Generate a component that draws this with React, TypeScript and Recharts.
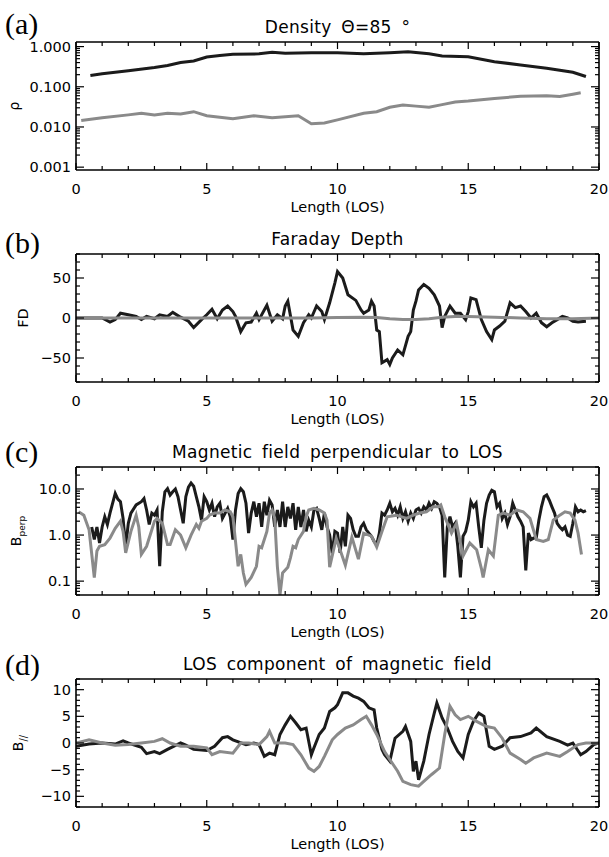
import React from "react";
import { LineChart, Line, XAxis, YAxis } from "recharts";

// ---- shared x axis ----
const losTicks = [0, 1, 2, 3, 4, 5, 6, 7, 8, 9, 10, 11, 12, 13, 14, 15, 16, 17, 18, 19, 20];
const losMajor = [0, 5, 10, 15, 20];

// ---- (a) density ----
const densityBlackX = [0.55, 1, 2, 3, 3.5, 4, 4.5, 5, 5.5, 6, 7, 7.5, 8, 9, 10, 11, 12, 12.7, 13.5, 14, 15, 16, 17, 18, 19, 19.5];
const densityBlack = [0.19, 0.21, 0.25, 0.3, 0.34, 0.4, 0.44, 0.55, 0.6, 0.64, 0.66, 0.72, 0.68, 0.7, 0.7, 0.66, 0.7, 0.74, 0.66, 0.58, 0.56, 0.42, 0.35, 0.29, 0.23, 0.18];
const densityGrayX = [0.2, 1, 2, 2.5, 3, 3.5, 4, 4.5, 5, 6, 6.8, 7.5, 8.5, 9, 9.5, 10, 11, 11.5, 12, 12.5, 13, 13.5, 14, 14.5, 15, 16, 17, 18, 18.5, 19, 19.3];
const densityGray = [0.0145, 0.017, 0.02, 0.022, 0.02, 0.022, 0.021, 0.024, 0.019, 0.016, 0.019, 0.017, 0.019, 0.012, 0.0125, 0.015, 0.022, 0.024, 0.031, 0.035, 0.033, 0.031, 0.036, 0.042, 0.044, 0.051, 0.058, 0.06, 0.057, 0.065, 0.071];
const densityTicks = [0.001, 0.002, 0.003, 0.004, 0.005, 0.006, 0.007, 0.008, 0.009, 0.01, 0.02, 0.03, 0.04, 0.05, 0.06, 0.07, 0.08, 0.09, 0.1, 0.2, 0.3, 0.4, 0.5, 0.6, 0.7, 0.8, 0.9, 1];
const densityMajor = [0.001, 0.01, 0.1, 1];
const densityLabels = ["0.001", "0.010", "0.100", "1.000"];

// ---- (b) Faraday depth ----
const fdBlackX = [0, 0.5, 1, 1.3, 1.5, 1.7, 2, 2.3, 2.5, 2.7, 3, 3.2, 3.5, 3.7, 4, 4.3, 4.5, 4.8, 5, 5.2, 5.4, 5.6, 5.8, 6, 6.1, 6.3, 6.5, 6.7, 6.9, 7, 7.2, 7.3, 7.5, 7.7, 7.9, 8, 8.1, 8.3, 8.5, 8.7, 8.9, 9, 9.2, 9.4, 9.5, 9.7, 9.9, 10, 10.2, 10.4, 10.7, 10.9, 11, 11.2, 11.3, 11.4, 11.5, 11.6, 11.7, 11.9, 12, 12.1, 12.3, 12.5, 12.7, 12.8, 12.9, 13, 13.1, 13.3, 13.5, 13.7, 13.9, 14, 14.1, 14.3, 14.5, 14.7, 14.9, 15, 15.1, 15.3, 15.5, 15.7, 15.9, 16, 16.2, 16.4, 16.6, 16.8, 17, 17.2, 17.4, 17.6, 17.8, 18, 18.2, 18.4, 18.6, 18.8, 19, 19.2, 19.5];
const fdBlack = [0, 0, 0, -5, -2, 6, 4, 2, -2, 2, -1, 4, 2, 7, 1, -4, -12, -2, 4, 11, -1, 10, 15, 8, 2, -17, -6, -5, 6, -2, 10, 16, -4, 4, -1, 15, 21, -15, -23, -6, 4, 0, 15, 8, -2, 19, 44, 58, 50, 29, 22, 10, 6, 10, 21, 15, -15, -17, -56, -52, -58, -50, -40, -46, -23, -17, 10, 21, 35, 42, 37, 29, 15, -12, 2, 15, 6, 6, -2, 8, 25, 23, -2, -17, -27, -15, -10, -4, 19, 13, 15, 8, 0, 6, -6, -11, -6, -2, 2, 0, -4, -5, -4];
const fdGrayX = [0, 2, 4, 6, 8, 9, 10, 11, 11.5, 12, 12.5, 13, 13.5, 14, 14.5, 15, 16, 17, 18, 19, 20];
const fdGray = [0, 0, 0, 0, 0, 0, 0.5, 1, 0.5, -1, -2, -2, -1, 1, 2, 2, 1, 0, -1, -1, 0];
const fdTicks = [-80, -70, -60, -50, -40, -30, -20, -10, 0, 10, 20, 30, 40, 50, 60, 70, 80];
const fdMajor = [-50, 0, 50];
const fdLabels = ["\u221250", "0", "50"];

// ---- (c) perpendicular field ----
const bperpBlackX = [0.6, 0.7, 0.8, 0.9, 1.0, 1.1, 1.2, 1.3, 1.5, 1.6, 1.7, 1.8, 1.9, 2.0, 2.1, 2.3, 2.5, 2.6, 2.7, 2.8, 2.9, 3.0, 3.1, 3.2, 3.3, 3.4, 3.5, 3.6, 3.7, 3.8, 3.9, 4.0, 4.1, 4.2, 4.3, 4.4, 4.5, 4.6, 4.7, 4.8, 4.9, 5.0, 5.1, 5.2, 5.3, 5.4, 5.5, 5.6, 5.8, 5.9,
  6.0, 6.1, 6.2, 6.3, 6.4, 6.5, 6.6, 6.7, 6.8, 6.9, 7.0, 7.1, 7.2, 7.3, 7.4, 7.5, 7.6, 7.7, 7.8, 7.9, 8.0, 8.1, 8.2, 8.3, 8.4, 8.5, 8.6, 8.7, 8.8, 8.9, 9.0, 9.1, 9.2, 9.3, 9.4, 9.5, 9.6, 9.7, 9.8, 9.9,
  10.0, 10.1, 10.2, 10.3, 10.4, 10.5, 10.6, 10.7, 10.8, 10.9, 11.0, 11.1, 11.2, 11.3, 11.4, 11.5, 11.6, 11.7, 11.8, 11.9, 12.0, 12.1, 12.2, 12.3, 12.4, 12.5, 12.6, 12.7, 12.8, 12.9, 13.0, 13.1, 13.2, 13.3, 13.4, 13.5, 13.6, 13.7, 13.8, 13.9,
  14.0, 14.1, 14.2, 14.3, 14.4, 14.5, 14.6, 14.7, 14.8, 14.9, 15.0, 15.1, 15.2, 15.3, 15.4, 15.5, 15.6, 15.7, 15.8, 15.9, 16.0, 16.1, 16.2, 16.3, 16.4, 16.5, 16.6, 16.7, 16.8, 16.9, 17.0, 17.1, 17.2, 17.3, 17.4, 17.5, 17.6, 17.7, 17.8, 17.9,
  18.0, 18.1, 18.2, 18.3, 18.4, 18.5, 18.6, 18.7, 18.8, 18.9, 19.0, 19.1, 19.2, 19.3, 19.4, 19.5];
const bperpBlack = [1.5, 0.8, 1.5, 0.67, 1.5, 2.5, 1.7, 3, 8, 6, 5.3, 2.3, 0.55, 1.8, 3, 4.5, 5.3, 6.2, 3.5, 1.7, 3, 2.7, 3.5, 0.21, 3.2, 8.7, 10.2, 7.4, 8.7, 10, 6.8, 3.5, 1.8, 6.8, 11, 13.5, 11.5, 6.8, 4.1, 2.1, 6.8, 5.3, 3.5, 4.9, 2.5, 4.1, 4.9, 2.3, 3.8, 2.5,
  0.8, 3.5, 8, 10.2, 8.7, 4.9, 1.1, 3, 5.3, 2.5, 4.9, 1.5, 5.3, 2.7, 5.7, 4.5, 1.5, 3.5, 1.5, 5.3, 1.5, 4.1, 2.3, 4.9, 1.3, 4.1, 1.5, 3.5, 1.2, 2.1, 1.5, 3.5, 3.8, 2.3, 1.3, 3, 1.5, 1, 0.4, 1.2,
  1.1, 0.41, 1.5, 0.57, 2.7, 2.3, 1.3, 0.94, 0.94, 1.5, 1.8, 1.3, 1.1, 0.94, 0.73, 0.62, 1.1, 3, 2.7, 3.5, 4.9, 3.2, 3.8, 2.7, 4.1, 2.3, 3.2, 2, 3, 2.3, 3.5, 3.8, 3, 4.1, 3.5, 4.9, 3.8, 5.3, 4.9, 4.1,
  2.7, 0.12, 1.5, 2.5, 1.5, 1.8, 0.57, 0.12, 0.94, 1.2, 2.1, 5.3, 4.1, 4.9, 1.5, 0.53, 2.1, 4.9, 7.4, 9.4, 8.7, 4.1, 4.9, 2.3, 3, 1.7, 2.5, 4.9, 3.5, 2.5, 2, 1.5, 0.17, 1.1, 0.8, 0.86, 0.86, 2.1, 4.1, 6.8,
  7.4, 5.7, 4.1, 3, 1.8, 1.5, 1.3, 1.5, 1, 0.94, 1.8, 4.1, 3.2, 3.5, 3.2, 3.4];
const bperpGrayX = [0.1, 0.3, 0.5, 0.7, 0.8, 0.9, 1.1, 1.3, 1.5, 1.7, 1.8, 1.9, 2.1, 2.3, 2.4, 2.5, 2.7, 2.9, 3.0, 3.1, 3.3, 3.5, 3.6, 3.8, 4.0, 4.2, 4.4, 4.6, 4.7, 4.8, 5.0, 5.1, 5.3, 5.5, 5.7, 5.9, 6.0, 6.1, 6.2, 6.3, 6.4, 6.5, 6.7, 6.9, 7.0, 7.1, 7.3, 7.4, 7.5, 7.6,
  7.7, 7.8, 7.9, 8.1, 8.2, 8.3, 8.4, 8.5, 8.7, 8.8, 8.9, 9.1, 9.3, 9.5, 9.6, 9.7, 9.95, 10.3, 10.55, 10.8, 11.0, 11.3, 11.5, 11.7, 11.9, 12.26, 12.64, 12.9, 13.15, 13.4, 13.66, 13.85, 13.95, 14.1, 14.36, 14.55, 14.8, 15.06, 15.32, 15.51,
  15.57, 15.77, 15.96, 16.15, 16.34, 16.6, 16.85, 17.1, 17.36, 17.6, 17.87, 18.06, 18.25, 18.5, 18.7, 18.9, 19.08, 19.2, 19.33];
const bperpGray = [3.2, 2.7, 1.3, 0.12, 0.45, 0.57, 0.62, 0.86, 1.4, 2, 1.2, 0.41, 1.2, 2.7, 1.5, 0.38, 0.57, 1.3, 2, 2.3, 1.8, 0.62, 0.62, 1.3, 1, 0.53, 1, 1.7, 1.4, 2, 2.3, 2.7, 3, 3, 3.5, 3.2, 2.5, 0.73, 0.21, 0.38, 0.15, 0.085, 0.12, 0.21, 0.57, 0.53, 1.2, 3, 3.5, 2.3,
  0.21, 0.05, 0.15, 0.2, 0.32, 0.57, 0.53, 0.8, 1.2, 2.5, 3.5, 3.8, 3.5, 3, 2.1, 0.2, 0.85, 0.22, 0.9, 0.3, 1.1, 0.95, 0.55, 1.2, 2.5, 2.7, 2.3, 2.7, 3, 3.2, 4.1, 4.1, 4.5, 2.5, 1.1, 1.8, 0.35, 0.67, 0.48, 0.18,
  0.12, 0.48, 0.35, 2.7, 3, 2.7, 3.5, 3.2, 2.3, 0.8, 0.73, 0.8, 2.1, 2.7, 3.2, 3, 2.1, 1.1, 0.38];
const bperpTicks = [0.05, 0.06, 0.07, 0.08, 0.09, 0.1, 0.2, 0.3, 0.4, 0.5, 0.6, 0.7, 0.8, 0.9, 1, 2, 3, 4, 5, 6, 7, 8, 9, 10, 20, 30];
const bperpMajor = [0.1, 1, 10];
const bperpLabels = ["0.1", "1.0", "10.0"];

// ---- (d) LOS field ----
const bparBlackX = [0, 0.5, 1, 1.5, 1.8, 2, 2.5, 2.7, 3, 3.2, 3.5, 4, 4.2, 4.5, 5, 5.3, 5.6, 5.8, 6, 6.5, 6.8, 7, 7.2, 7.4, 7.6, 7.8, 8, 8.2, 8.4, 8.6, 8.8, 9, 9.1, 9.3, 9.5, 9.7, 9.9, 10, 10.2, 10.4, 10.6, 10.8, 11, 11.2, 11.4, 11.5, 11.7, 11.8, 12, 12.2, 12.5, 12.6, 12.8, 12.9, 13, 13.1, 13.3, 13.5, 13.7, 13.8, 14, 14.2, 14.4, 14.6, 14.8, 15, 15.2, 15.4, 15.6, 15.8, 16, 16.3, 16.6, 17, 17.4, 17.6, 18, 18.5, 18.8, 19, 19.3, 19.5, 19.8, 20];
const bparBlack = [-0.6, -0.2, 0, -0.2, 0.4, 0, -0.8, -2, -1.6, -2, -1.2, 0, -0.4, -1.2, -1.4, -0.6, 1, 1.2, 0.6, -0.3, 0, -0.3, -2.5, -1.9, -2.2, 1.6, 3.4, 5, 3.8, 2.5, 2.8, -2.2, -0.9, 1.6, 2.8, 5.9, 6.6, 7.2, 9.4, 9.4, 8.8, 8.4, 7.8, 6.6, 6.2, 2.8, -1.2, -2.2, -3.4, 0.9, 2.2, 3.1, 0.3, -5.3, -3.4, -6.9, -3.4, 1.6, 5.6, 7.5, 4.7, 2.8, 0.3, -1.6, -2.8, 1.6, 4.1, 5.6, 5, -0.6, -1.2, -0.6, 1, 1.2, 1.9, 2.8, 1.2, 0.3, -0.4, 0, -2.2, -1.6, -0.3, 0];
const bparGrayX = [0, 0.5, 1, 1.5, 2, 2.5, 3, 3.3, 3.6, 4, 4.5, 5, 5.2, 5.5, 6, 6.3, 6.6, 7, 7.3, 7.4, 7.6, 8, 8.3, 8.6, 8.9, 9.1, 9.3, 9.5, 9.8, 10, 10.3, 10.6, 10.9, 11.1, 11.3, 11.5, 11.8, 12, 12.3, 12.5, 12.8, 13.1, 13.3, 13.6, 13.9, 14.1, 14.3, 14.5, 14.7, 15, 15.3, 15.7, 16, 16.3, 16.6, 17, 17.2, 17.5, 18, 18.5, 18.8, 19.2, 19.5, 20];
const bparGray = [0, 0.6, 0, -0.4, -0.3, 0, 0.3, 0.8, 0, -0.6, -0.6, -0.9, -2.2, -1.6, -1.9, 0, 0, -0.3, 1.2, 2.2, 0, 0, -0.3, -2.2, -4.7, -5.3, -4.4, -2.5, 0.6, 1.6, 2.8, 3.4, 4.4, 5, 3.4, 1.6, -1.6, -3.1, -5.3, -7.2, -7.8, -8.1, -7.2, -5.9, -4.7, 1.6, 6.9, 5.3, 4.4, 5, 4.1, 3.1, 2.8, 0.9, -1.9, -3.1, -3.8, -2.8, -1.9, -2.5, -1.6, -0.3, 0, 0];
const bparTicks = [-12, -11, -10, -9, -8, -7, -6, -5, -4, -3, -2, -1, 0, 1, 2, 3, 4, 5, 6, 7, 8, 9, 10, 11, 12];
const bparMajor = [-10, -5, 0, 5, 10];
const bparLabels = ["\u221210", "\u22125", "0", "5", "10"];

const zip = (xs: number[], ys: number[]) => xs.map((x, i) => ({ x, y: ys[i] }));

const FONT = "'DejaVu Sans', sans-serif";
const BLACK = "#1b1b1b";
const GRAY = "#8a8a8a";
const BOX_H = 128;
const CHART_H = 10 + BOX_H + 50;

type PanelProps = {
  boxTop: number;
  letter: string;
  letterTop: number;
  title: string;
  yLabel: React.ReactNode;
  yLabelX: number;
  black: { x: number; y: number }[];
  gray: { x: number; y: number }[];
  scale: "linear" | "log";
  domain: [number, number];
  ticks: number[];
  major: number[];
  labels: string[];
};

const Panel: React.FC<PanelProps> = (p) => {
  const isMajor = (v: number) => p.major.some((m) => Math.abs(m - v) < 1e-9);
  const labelOf = (v: number) => p.labels[p.major.findIndex((m) => Math.abs(m - v) < 1e-9)];

  const bottomTick = ({ x, y, payload }: any) => {
    const major = losMajor.includes(payload.value);
    return (
      <g>
        <line x1={x} x2={x} y1={y} y2={y - (major ? 7 : 4)} stroke="#000" strokeWidth={1.2} />
        {major && (
          <text x={x} y={y + 19} textAnchor="middle" dominantBaseline="central" fontSize={14.5} fill="#000">
            {payload.value}
          </text>
        )}
      </g>
    );
  };
  const topTick = ({ x, y, payload }: any) => {
    const major = losMajor.includes(payload.value);
    return <line x1={x} x2={x} y1={y} y2={y + (major ? 7 : 4)} stroke="#000" strokeWidth={1.2} />;
  };
  const leftTick = ({ x, y, payload }: any) => {
    const major = isMajor(payload.value);
    return (
      <g>
        <line x1={x} x2={x + (major ? 8 : 4)} y1={y} y2={y} stroke="#000" strokeWidth={1.2} />
        {major && (
          <text x={x - 5} y={y} textAnchor="end" dominantBaseline="central" fontSize={14.5} fill="#000">
            {labelOf(payload.value)}
          </text>
        )}
      </g>
    );
  };
  const rightTick = ({ x, y, payload }: any) => {
    const major = isMajor(payload.value);
    return <line x1={x} x2={x - (major ? 8 : 4)} y1={y} y2={y} stroke="#000" strokeWidth={1.2} />;
  };

  const axisLine = { stroke: "#000", strokeWidth: 1.6 };
  const boxBottom = p.boxTop + BOX_H;

  return (
    <>
      <div style={{ position: "absolute", left: 5, top: p.letterTop, transform: "translateY(-50%)", fontFamily: "'Liberation Serif', serif", fontSize: 30, lineHeight: 1 }}>
        {p.letter}
      </div>
      <div style={{ position: "absolute", left: 337.5, top: p.boxTop - 15, transform: "translate(-50%, -50%)", fontSize: 17, letterSpacing: 0.3, wordSpacing: 4, whiteSpace: "pre", lineHeight: 1 }}>
        {p.title}
      </div>
      <div style={{ position: "absolute", left: p.yLabelX, top: p.boxTop + BOX_H / 2, transform: "translate(-50%, -50%) rotate(-90deg)", fontSize: 14, whiteSpace: "nowrap", lineHeight: 1 }}>
        {p.yLabel}
      </div>
      <div style={{ position: "absolute", left: 337.5, top: boxBottom + 37, transform: "translate(-50%, -50%)", fontSize: 14.5, whiteSpace: "nowrap", lineHeight: 1 }}>
        Length (LOS)
      </div>
      <div style={{ position: "absolute", left: 0, top: p.boxTop - 10 }}>
        <LineChart width={609} height={CHART_H} margin={{ top: 0, right: 0, bottom: 0, left: 0 }}>
          <XAxis xAxisId="b" dataKey="x" type="number" domain={[0, 20]} ticks={losTicks} interval={0} tickSize={0} tickMargin={0} tickLine={false} axisLine={axisLine} height={50} tick={bottomTick} allowDataOverflow />
          <XAxis xAxisId="t" orientation="top" dataKey="x" type="number" domain={[0, 20]} ticks={losTicks} interval={0} tickSize={0} tickMargin={0} tickLine={false} axisLine={axisLine} height={10} tick={topTick} allowDataOverflow />
          <YAxis yAxisId="l" type="number" scale={p.scale} domain={p.domain} ticks={p.ticks} interval={0} tickSize={0} tickMargin={0} tickLine={false} axisLine={axisLine} width={76} tick={leftTick} allowDataOverflow />
          <YAxis yAxisId="r" orientation="right" type="number" scale={p.scale} domain={p.domain} ticks={p.ticks} interval={0} tickSize={0} tickMargin={0} tickLine={false} axisLine={axisLine} width={10} tick={rightTick} allowDataOverflow />
          <Line xAxisId="b" yAxisId="l" data={p.black} dataKey="y" type="linear" stroke={BLACK} strokeWidth={3} dot={false} isAnimationActive={false} />
          <Line xAxisId="t" yAxisId="r" data={p.gray} dataKey="y" type="linear" stroke={GRAY} strokeWidth={3} dot={false} isAnimationActive={false} />
        </LineChart>
      </div>
    </>
  );
};

export default function App() {
  return (
    <div style={{ position: "absolute", left: 0, top: 0, width: 609, height: 857, background: "#fff", fontFamily: FONT, color: "#000", overflow: "hidden" }}>
      <Panel
        boxTop={42}
        letter="(a)"
        letterTop={24}
        title={"Density \u0398=85 \u00b0"}
        yLabel={"\u03c1"}
        yLabelX={14}
        black={zip(densityBlackX, densityBlack)}
        gray={zip(densityGrayX, densityGray)}
        scale="log"
        domain={[0.00085, 1.3]}
        ticks={densityTicks}
        major={densityMajor}
        labels={densityLabels}
      />
      <Panel
        boxTop={254}
        letter="(b)"
        letterTop={243}
        title="Faraday Depth"
        yLabel="FD"
        yLabelX={23}
        black={zip(fdBlackX, fdBlack)}
        gray={zip(fdGrayX, fdGray)}
        scale="linear"
        domain={[-80, 80]}
        ticks={fdTicks}
        major={fdMajor}
        labels={fdLabels}
      />
      <Panel
        boxTop={467}
        letter="(c)"
        letterTop={452}
        title="Magnetic field perpendicular to LOS"
        yLabel={<span>B<sub style={{ fontSize: 9 }}>perp</sub></span>}
        yLabelX={18}
        black={zip(bperpBlackX, bperpBlack)}
        gray={zip(bperpGrayX, bperpGray)}
        scale="log"
        domain={[0.05, 30]}
        ticks={bperpTicks}
        major={bperpMajor}
        labels={bperpLabels}
      />
      <Panel
        boxTop={679}
        letter="(d)"
        letterTop={665}
        title="LOS component of magnetic field"
        yLabel={<span>B<sub style={{ fontSize: 10 }}>//</sub></span>}
        yLabelX={20}
        black={zip(bparBlackX, bparBlack)}
        gray={zip(bparGrayX, bparGray)}
        scale="linear"
        domain={[-12, 12]}
        ticks={bparTicks}
        major={bparMajor}
        labels={bparLabels}
      />
    </div>
  );
}
